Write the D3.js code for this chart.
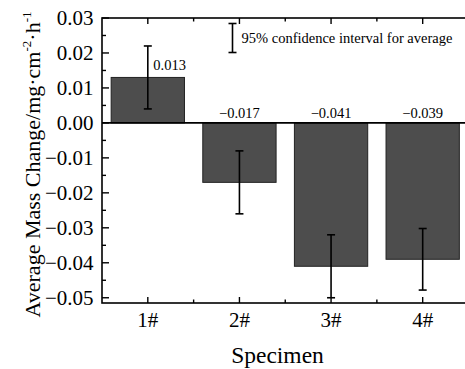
<!DOCTYPE html>
<html>
<head>
<meta charset="utf-8">
<script src="https://cdn.jsdelivr.net/npm/d3@7"></script>
<style>
html,body{margin:0;padding:0;background:#fff;}
svg{display:block;}
</style>
</head>
<body>
<svg id="chart" width="465" height="369"></svg>
<script>
const categories = ["1#", "2#", "3#", "4#"];
const values = [0.013, -0.017, -0.041, -0.039];
const errors = [0.009, 0.009, 0.009, 0.0088];
const valueLabels = ["0.013", "\u22120.017", "\u22120.041", "\u22120.039"];
const yTicks = [0.03, 0.02, 0.01, 0.00, -0.01, -0.02, -0.03, -0.04, -0.05];
const yTickLabels = ["0.03", "0.02", "0.01", "0.00", "\u22120.01", "\u22120.02", "\u22120.03", "\u22120.04", "\u22120.05"];
const yMinorTicks = [0.025, 0.015, 0.005, -0.005, -0.015, -0.025, -0.035, -0.045];
const legendText = "95% confidence interval for average";
const xTitle = "Specimen";

(function () {
const svg = d3.select("#chart");
const pL = 102, pR = 468.5, pT = 18, pB = 303;
const FF = "Liberation Serif";

const x = d3.scaleBand().domain(categories).range([pL, pR]).paddingInner(0.2).paddingOuter(0.1);
const y = d3.scaleLinear().domain([-0.0515, 0.03]).range([pB, pT]);

// bars
svg.append("g").selectAll("rect").data(values).join("rect")
  .attr("x", (d, i) => x(categories[i]))
  .attr("width", x.bandwidth())
  .attr("y", d => y(Math.max(d, 0)))
  .attr("height", d => Math.abs(y(d) - y(0)))
  .attr("fill", "#4d4d4d")
  .attr("stroke", "#222")
  .attr("stroke-width", 1);

// zero line
svg.append("line").attr("x1", pL).attr("x2", pR).attr("y1", y(0)).attr("y2", y(0))
  .attr("stroke", "#000").attr("stroke-width", 1.6);

// error bars
const eg = svg.append("g").attr("stroke", "#000").attr("stroke-width", 1.6);
values.forEach((v, i) => {
  const cx = x(categories[i]) + x.bandwidth() / 2;
  const y1 = y(v + errors[i]), y2 = y(v - errors[i]);
  eg.append("line").attr("x1", cx).attr("x2", cx).attr("y1", y1).attr("y2", y2);
  eg.append("line").attr("x1", cx - 4).attr("x2", cx + 4).attr("y1", y1).attr("y2", y1);
  eg.append("line").attr("x1", cx - 4).attr("x2", cx + 4).attr("y1", y2).attr("y2", y2);
});

// value labels
svg.append("g").selectAll("text").data(values).join("text")
  .attr("x", (d, i) => x(categories[i]) + x.bandwidth() / 2 + (d > 0 ? 5.5 : 0))
  .attr("y", d => d > 0 ? y(d) - 7 : y(0) - 4.5)
  .attr("text-anchor", d => d > 0 ? "start" : "middle")
  .style("font-family", FF)
  .attr("font-size", 14.5)
  .attr("fill", "#000")
  .text((d, i) => valueLabels[i]);

// frame
svg.append("rect").attr("x", pL).attr("y", pT).attr("width", pR - pL).attr("height", pB - pT)
  .attr("fill", "none").attr("stroke", "#000").attr("stroke-width", 1.6);

// y axis ticks (inward)
const yg = svg.append("g").attr("stroke", "#000").attr("stroke-width", 1.4);
yTicks.forEach(t => {
  yg.append("line").attr("x1", pL).attr("x2", pL + 7).attr("y1", y(t)).attr("y2", y(t));
});
yMinorTicks.forEach(t => {
  yg.append("line").attr("x1", pL).attr("x2", pL + 4).attr("y1", y(t)).attr("y2", y(t));
});
svg.append("g").selectAll("text").data(yTicks).join("text")
  .attr("x", pL - 8.5)
  .attr("y", d => y(d))
  .attr("dy", "0.33em")
  .attr("text-anchor", "end")
  .style("font-family", FF)
  .attr("font-size", 21)
  .attr("fill", "#000")
  .text((d, i) => yTickLabels[i]);

// x axis ticks (bottom and top, inward)
const xg = svg.append("g").attr("stroke", "#000").attr("stroke-width", 1.4);
categories.forEach((c, i) => {
  const cx = x(c) + x.bandwidth() / 2;
  xg.append("line").attr("x1", cx).attr("x2", cx).attr("y1", pB).attr("y2", pB - 6);
  xg.append("line").attr("x1", cx).attr("x2", cx).attr("y1", pT).attr("y2", pT + 6);
  if (i > 0) {
    const mx = x(c) - x.step() * x.paddingInner() / 2;
    xg.append("line").attr("x1", mx).attr("x2", mx).attr("y1", pB).attr("y2", pB - 3.5);
    xg.append("line").attr("x1", mx).attr("x2", mx).attr("y1", pT).attr("y2", pT + 3.5);
  }
});
svg.append("g").selectAll("text").data(categories).join("text")
  .attr("x", d => x(d) + x.bandwidth() / 2)
  .attr("y", 326.5)
  .attr("text-anchor", "middle")
  .style("font-family", FF)
  .attr("font-size", 21)
  .attr("fill", "#000")
  .text(d => d);

// x title
svg.append("text").attr("x", 277.5).attr("y", 363).attr("text-anchor", "middle")
  .style("font-family", FF)
  .attr("font-size", 23.5).attr("fill", "#000").text(xTitle);

// y title
const yt = svg.append("text")
  .attr("transform", "translate(40,164.5) rotate(-90)")
  .attr("text-anchor", "middle")
  .style("font-family", FF)
  .attr("font-size", 22)
  .attr("fill", "#000");
yt.append("tspan").text("Average Mass Change/mg\u00b7cm");
yt.append("tspan").attr("dy", -9).attr("font-size", 13).text("-2");
yt.append("tspan").attr("dy", 9).text("\u00b7h");
yt.append("tspan").attr("dy", -9).attr("font-size", 13).text("-1");

// legend
const lg = svg.append("g").attr("stroke", "#000").attr("stroke-width", 1.6);
const lx = 232.5, ly1 = 23.5, ly2 = 52.5;
lg.append("line").attr("x1", lx).attr("x2", lx).attr("y1", ly1).attr("y2", ly2);
lg.append("line").attr("x1", lx - 4).attr("x2", lx + 4).attr("y1", ly1).attr("y2", ly1);
lg.append("line").attr("x1", lx - 4).attr("x2", lx + 4).attr("y1", ly2).attr("y2", ly2);
svg.append("text").attr("x", 241.5).attr("y", 43).style("font-family", FF)
  .attr("font-size", 14.5).attr("fill", "#000").text(legendText);
})();
</script>
</body>
</html>
